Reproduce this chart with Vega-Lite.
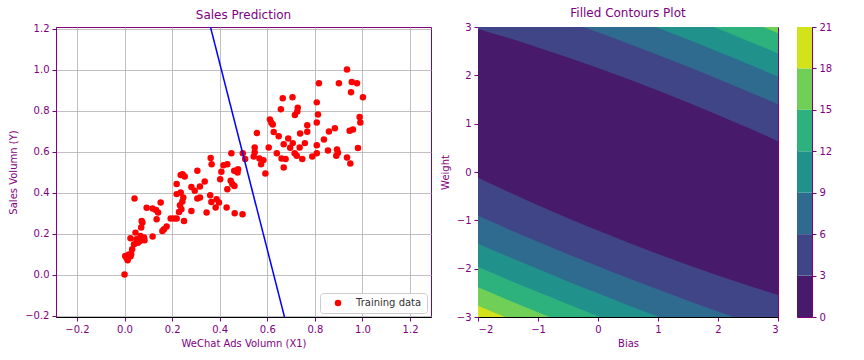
{
  "$schema": "https://vega.github.io/schema/vega-lite/v6.json",
  "padding": {"left": 8, "top": 6, "right": 0, "bottom": 0},
  "background": "white",
  "spacing": 7,
  "resolve": {"scale": {"color": "independent"}, "legend": {"color": "independent"}},
  "config": {
    "font": "DejaVu Sans",
    "view": {"stroke": "#800080", "strokeWidth": 1},
    "axis": {
      "labelFont": "DejaVu Sans", "labelFontSize": 10, "labelColor": "#800080",
      "titleFont": "DejaVu Sans", "titleFontSize": 10, "titleFontWeight": "normal", "titleColor": "#800080",
      "tickColor": "#800080", "tickSize": 4, "labelPadding": 3, "domainColor": "#800080",
      "gridColor": "#b0b0b0", "gridWidth": 0.8, "gridOpacity": 1
    },
    "title": {"font": "DejaVu Sans", "fontSize": 12, "fontWeight": "normal", "color": "#800080", "offset": 2, "anchor": "middle"}
  },
  "datasets": {
    "pts": [
      {"x": 0.000, "y": 0.000}, {"x": 0.003, "y": 0.091}, {"x": 0.008, "y": 0.082}, {"x": 0.013, "y": 0.070},
      {"x": 0.018, "y": 0.098}, {"x": 0.025, "y": 0.088}, {"x": 0.028, "y": 0.099}, {"x": 0.032, "y": 0.124},
      {"x": 0.040, "y": 0.148}, {"x": 0.025, "y": 0.178}, {"x": 0.046, "y": 0.205}, {"x": 0.050, "y": 0.173},
      {"x": 0.056, "y": 0.156}, {"x": 0.067, "y": 0.189}, {"x": 0.065, "y": 0.164}, {"x": 0.082, "y": 0.181},
      {"x": 0.084, "y": 0.168}, {"x": 0.070, "y": 0.230}, {"x": 0.075, "y": 0.254}, {"x": 0.072, "y": 0.262},
      {"x": 0.042, "y": 0.372}, {"x": 0.093, "y": 0.326}, {"x": 0.118, "y": 0.323}, {"x": 0.132, "y": 0.316},
      {"x": 0.141, "y": 0.303}, {"x": 0.135, "y": 0.270}, {"x": 0.152, "y": 0.352}, {"x": 0.118, "y": 0.186},
      {"x": 0.159, "y": 0.213}, {"x": 0.166, "y": 0.221}, {"x": 0.177, "y": 0.235}, {"x": 0.194, "y": 0.274},
      {"x": 0.208, "y": 0.274}, {"x": 0.219, "y": 0.274}, {"x": 0.250, "y": 0.262}, {"x": 0.219, "y": 0.442},
      {"x": 0.236, "y": 0.486}, {"x": 0.253, "y": 0.479}, {"x": 0.306, "y": 0.507}, {"x": 0.219, "y": 0.393},
      {"x": 0.236, "y": 0.401}, {"x": 0.247, "y": 0.376}, {"x": 0.243, "y": 0.357}, {"x": 0.233, "y": 0.339},
      {"x": 0.239, "y": 0.319}, {"x": 0.229, "y": 0.306}, {"x": 0.281, "y": 0.428}, {"x": 0.295, "y": 0.409},
      {"x": 0.317, "y": 0.430}, {"x": 0.337, "y": 0.455}, {"x": 0.306, "y": 0.372}, {"x": 0.317, "y": 0.376},
      {"x": 0.281, "y": 0.311}, {"x": 0.345, "y": 0.303}, {"x": 0.360, "y": 0.388}, {"x": 0.365, "y": 0.355},
      {"x": 0.387, "y": 0.368}, {"x": 0.383, "y": 0.328}, {"x": 0.397, "y": 0.352}, {"x": 0.402, "y": 0.466},
      {"x": 0.407, "y": 0.502}, {"x": 0.446, "y": 0.458}, {"x": 0.453, "y": 0.442}, {"x": 0.432, "y": 0.417},
      {"x": 0.429, "y": 0.328}, {"x": 0.463, "y": 0.300}, {"x": 0.496, "y": 0.295}, {"x": 0.461, "y": 0.507},
      {"x": 0.475, "y": 0.499}, {"x": 0.362, "y": 0.569}, {"x": 0.366, "y": 0.539}, {"x": 0.449, "y": 0.592},
      {"x": 0.416, "y": 0.534}, {"x": 0.432, "y": 0.539}, {"x": 0.244, "y": 0.490}, {"x": 0.477, "y": 0.515},
      {"x": 0.462, "y": 0.433},
      {"x": 0.935, "y": 1.002}, {"x": 0.817, "y": 0.934}, {"x": 0.901, "y": 0.934}, {"x": 0.955, "y": 0.940},
      {"x": 0.977, "y": 0.934}, {"x": 0.952, "y": 0.890}, {"x": 1.002, "y": 0.866}, {"x": 0.665, "y": 0.861},
      {"x": 0.706, "y": 0.866}, {"x": 0.808, "y": 0.841}, {"x": 0.657, "y": 0.807}, {"x": 0.728, "y": 0.815},
      {"x": 0.726, "y": 0.797}, {"x": 0.716, "y": 0.779}, {"x": 0.813, "y": 0.782}, {"x": 0.808, "y": 0.743},
      {"x": 0.988, "y": 0.769}, {"x": 0.991, "y": 0.743}, {"x": 0.611, "y": 0.758}, {"x": 0.623, "y": 0.733},
      {"x": 0.617, "y": 0.742}, {"x": 0.768, "y": 0.729}, {"x": 0.556, "y": 0.691}, {"x": 0.627, "y": 0.696},
      {"x": 0.768, "y": 0.697}, {"x": 0.738, "y": 0.689}, {"x": 0.884, "y": 0.715}, {"x": 0.859, "y": 0.699},
      {"x": 0.946, "y": 0.702}, {"x": 0.960, "y": 0.709}, {"x": 0.648, "y": 0.675}, {"x": 0.688, "y": 0.665},
      {"x": 0.838, "y": 0.660}, {"x": 0.758, "y": 0.642}, {"x": 0.669, "y": 0.636}, {"x": 0.707, "y": 0.642},
      {"x": 0.696, "y": 0.619}, {"x": 0.736, "y": 0.621}, {"x": 0.808, "y": 0.632}, {"x": 0.981, "y": 0.618},
      {"x": 0.547, "y": 0.621}, {"x": 0.606, "y": 0.621}, {"x": 0.547, "y": 0.597}, {"x": 0.855, "y": 0.606},
      {"x": 0.893, "y": 0.611}, {"x": 0.897, "y": 0.595}, {"x": 0.808, "y": 0.592}, {"x": 0.789, "y": 0.577},
      {"x": 0.890, "y": 0.580}, {"x": 0.935, "y": 0.572}, {"x": 0.949, "y": 0.543}, {"x": 0.640, "y": 0.592},
      {"x": 0.715, "y": 0.592}, {"x": 0.724, "y": 0.580}, {"x": 0.747, "y": 0.564}, {"x": 0.660, "y": 0.567},
      {"x": 0.677, "y": 0.564}, {"x": 0.669, "y": 0.523}, {"x": 0.567, "y": 0.567}, {"x": 0.584, "y": 0.559},
      {"x": 0.574, "y": 0.539}, {"x": 0.543, "y": 0.577}, {"x": 0.497, "y": 0.592}, {"x": 0.507, "y": 0.564},
      {"x": 0.592, "y": 0.494}
    ],
    "fit": [{"x": 0.30, "y": 1.4875}, {"x": 0.75, "y": -0.5605}],
    "contour": [
      {"level": 21, "b": -2, "lo": -3, "hi": 3}, {"level": 21, "b": 3, "lo": -3, "hi": 3},
      {"level": 18, "b": -2, "lo": -2.766, "hi": 5.606}, {"level": 18, "b": -1.5, "lo": -3.024, "hi": 5.389},
      {"level": 18, "b": -1, "lo": -3.276, "hi": 5.166}, {"level": 18, "b": -0.5, "lo": -3.526, "hi": 4.941},
      {"level": 18, "b": 0, "lo": -3.770, "hi": 4.710}, {"level": 18, "b": 0.5, "lo": -4.012, "hi": 4.477},
      {"level": 18, "b": 1, "lo": -4.249, "hi": 4.239}, {"level": 18, "b": 1.5, "lo": -4.483, "hi": 3.998},
      {"level": 18, "b": 2, "lo": -4.712, "hi": 3.752}, {"level": 18, "b": 2.5, "lo": -4.938, "hi": 3.503},
      {"level": 18, "b": 3, "lo": -5.159, "hi": 3.249},
      {"level": 15, "b": -2, "lo": -2.387, "hi": 5.227}, {"level": 15, "b": -1.5, "lo": -2.647, "hi": 5.012},
      {"level": 15, "b": -1, "lo": -2.901, "hi": 4.791}, {"level": 15, "b": -0.5, "lo": -3.151, "hi": 4.566},
      {"level": 15, "b": 0, "lo": -3.396, "hi": 4.336}, {"level": 15, "b": 0.5, "lo": -3.639, "hi": 4.104},
      {"level": 15, "b": 1, "lo": -3.875, "hi": 3.865}, {"level": 15, "b": 1.5, "lo": -4.109, "hi": 3.624},
      {"level": 15, "b": 2, "lo": -4.337, "hi": 3.377}, {"level": 15, "b": 2.5, "lo": -4.562, "hi": 3.127},
      {"level": 15, "b": 3, "lo": -4.782, "hi": 2.872},
      {"level": 12, "b": -2, "lo": -1.966, "hi": 4.806}, {"level": 12, "b": -1.5, "lo": -2.228, "hi": 4.593},
      {"level": 12, "b": -1, "lo": -2.484, "hi": 4.374}, {"level": 12, "b": -0.5, "lo": -2.736, "hi": 4.151},
      {"level": 12, "b": 0, "lo": -2.982, "hi": 3.922}, {"level": 12, "b": 0.5, "lo": -3.225, "hi": 3.690},
      {"level": 12, "b": 1, "lo": -3.462, "hi": 3.452}, {"level": 12, "b": 1.5, "lo": -3.695, "hi": 3.210},
      {"level": 12, "b": 2, "lo": -3.922, "hi": 2.962}, {"level": 12, "b": 2.5, "lo": -4.146, "hi": 2.711},
      {"level": 12, "b": 3, "lo": -4.363, "hi": 2.453},
      {"level": 9, "b": -2, "lo": -1.484, "hi": 4.324}, {"level": 9, "b": -1.5, "lo": -1.750, "hi": 4.115},
      {"level": 9, "b": -1, "lo": -2.009, "hi": 3.899}, {"level": 9, "b": -0.5, "lo": -2.264, "hi": 3.679},
      {"level": 9, "b": 0, "lo": -2.511, "hi": 3.451}, {"level": 9, "b": 0.5, "lo": -2.755, "hi": 3.220},
      {"level": 9, "b": 1, "lo": -2.991, "hi": 2.981}, {"level": 9, "b": 1.5, "lo": -3.224, "hi": 2.739},
      {"level": 9, "b": 2, "lo": -3.450, "hi": 2.490}, {"level": 9, "b": 2.5, "lo": -3.671, "hi": 2.236},
      {"level": 9, "b": 3, "lo": -3.885, "hi": 1.975},
      {"level": 6, "b": -2, "lo": -0.905, "hi": 3.745}, {"level": 6, "b": -1.5, "lo": -1.177, "hi": 3.542},
      {"level": 6, "b": -1, "lo": -1.442, "hi": 3.332}, {"level": 6, "b": -0.5, "lo": -1.700, "hi": 3.115},
      {"level": 6, "b": 0, "lo": -1.950, "hi": 2.890}, {"level": 6, "b": 0.5, "lo": -2.195, "hi": 2.660},
      {"level": 6, "b": 1, "lo": -2.432, "hi": 2.422}, {"level": 6, "b": 1.5, "lo": -2.663, "hi": 2.178},
      {"level": 6, "b": 2, "lo": -2.886, "hi": 1.926}, {"level": 6, "b": 2.5, "lo": -3.103, "hi": 1.668},
      {"level": 6, "b": 3, "lo": -3.312, "hi": 1.402},
      {"level": 3, "b": -2, "lo": -0.121, "hi": 2.961}, {"level": 3, "b": -1.5, "lo": -0.411, "hi": 2.776},
      {"level": 3, "b": -1, "lo": -0.688, "hi": 2.578}, {"level": 3, "b": -0.5, "lo": -0.955, "hi": 2.370},
      {"level": 3, "b": 0, "lo": -1.212, "hi": 2.152}, {"level": 3, "b": 0.5, "lo": -1.459, "hi": 1.924},
      {"level": 3, "b": 1, "lo": -1.696, "hi": 1.686}, {"level": 3, "b": 1.5, "lo": -1.924, "hi": 1.439},
      {"level": 3, "b": 2, "lo": -2.141, "hi": 1.181}, {"level": 3, "b": 2.5, "lo": -2.348, "hi": 0.913},
      {"level": 3, "b": 3, "lo": -2.544, "hi": 0.634}
    ],
    "cbar": [
      {"lo": 0, "hi": 3}, {"lo": 3, "hi": 6}, {"lo": 6, "hi": 9}, {"lo": 9, "hi": 12},
      {"lo": 12, "hi": 15}, {"lo": 15, "hi": 18}, {"lo": 18, "hi": 21}
    ]
  },
  "hconcat": [
    {
      "width": 375, "height": 290,
      "title": {"text": "Sales Prediction", "frame": "group"},
      "layer": [
        {
          "data": {"name": "pts"},
          "mark": {"type": "circle", "size": 42, "opacity": 1},
          "encoding": {
            "x": {"field": "x", "type": "quantitative",
              "scale": {"domain": [-0.288, 1.288], "nice": false, "zero": false},
              "axis": {"title": "WeChat Ads Volumn (X1)", "values": [-0.2, 0, 0.2, 0.4, 0.6, 0.8, 1.0, 1.2], "format": ".1f", "grid": true, "domainColor": "#000000", "titlePadding": 4}},
            "y": {"field": "y", "type": "quantitative",
              "scale": {"domain": [-0.207, 1.209], "nice": false, "zero": false},
              "axis": {"title": "Sales Volumn (Y)", "values": [-0.2, 0, 0.2, 0.4, 0.6, 0.8, 1.0, 1.2], "format": ".1f", "grid": true, "titlePadding": 6}},
            "color": {"datum": "Training data", "type": "nominal",
              "scale": {"range": ["#ff0000"]},
              "legend": {"title": null, "orient": "bottom-right", "offset": 4, "symbolType": "circle", "symbolSize": 42, "symbolOpacity": 1,
                "labelFont": "DejaVu Sans", "labelFontSize": 10, "labelColor": "#333333", "strokeColor": "#cccccc", "fillColor": "#ffffff",
                "padding": 5, "cornerRadius": 3, "symbolOffset": 8, "labelOffset": 13}}
          }
        },
        {
          "data": {"name": "fit"},
          "mark": {"type": "line", "color": "#0000ff", "strokeWidth": 1.5, "clip": true},
          "encoding": {
            "x": {"field": "x", "type": "quantitative"},
            "y": {"field": "y", "type": "quantitative"}
          }
        }
      ]
    },
    {
      "spacing": 19,
      "bounds": "flush",
      "hconcat": [
        {
          "width": 300, "height": 290,
          "title": {"text": "Filled Contours Plot", "frame": "group"},
          "data": {"name": "contour"},
          "encoding": {
            "x": {"field": "b", "type": "quantitative",
              "scale": {"domain": [-2, 3], "nice": false, "zero": false},
              "axis": {"title": "Bias", "values": [-2, -1, 0, 1, 2, 3], "format": "d", "grid": false, "domainColor": "#000000", "titlePadding": 4}},
            "y": {"field": "lo", "type": "quantitative",
              "scale": {"domain": [-3, 3], "nice": false, "zero": false},
              "axis": {"title": "Weight", "values": [-3, -2, -1, 0, 1, 2, 3], "format": "d", "grid": false, "titlePadding": 6}},
            "y2": {"field": "hi"}
          },
          "layer": [
            {"transform": [{"filter": "datum.level == 21"}], "mark": {"type": "area", "clip": true, "color": "#d2e21b", "interpolate": "monotone"}},
            {"transform": [{"filter": "datum.level == 18"}], "mark": {"type": "area", "clip": true, "color": "#70cf57", "interpolate": "monotone"}},
            {"transform": [{"filter": "datum.level == 15"}], "mark": {"type": "area", "clip": true, "color": "#2db27d", "interpolate": "monotone"}},
            {"transform": [{"filter": "datum.level == 12"}], "mark": {"type": "area", "clip": true, "color": "#21918c", "interpolate": "monotone"}},
            {"transform": [{"filter": "datum.level == 9"}], "mark": {"type": "area", "clip": true, "color": "#2f6b8e", "interpolate": "monotone"}},
            {"transform": [{"filter": "datum.level == 6"}], "mark": {"type": "area", "clip": true, "color": "#404588", "interpolate": "monotone"}},
            {"transform": [{"filter": "datum.level == 3"}], "mark": {"type": "area", "clip": true, "color": "#481a6c", "interpolate": "monotone"}}
          ]
        },
        {
          "width": 15, "height": 290,
          "data": {"name": "cbar"},
          "mark": {"type": "rect"},
          "encoding": {
            "y": {"field": "lo", "type": "quantitative",
              "scale": {"domain": [0, 21], "nice": false, "zero": false},
              "axis": {"orient": "right", "title": null, "values": [0, 3, 6, 9, 12, 15, 18, 21], "format": "d", "grid": false, "domain": false}},
            "y2": {"field": "hi"},
            "color": {"field": "lo", "type": "ordinal",
              "scale": {"domain": [0, 3, 6, 9, 12, 15, 18], "range": ["#481a6c", "#404588", "#2f6b8e", "#21918c", "#2db27d", "#70cf57", "#d2e21b"]},
              "legend": null}
          }
        }
      ]
    }
  ]
}
